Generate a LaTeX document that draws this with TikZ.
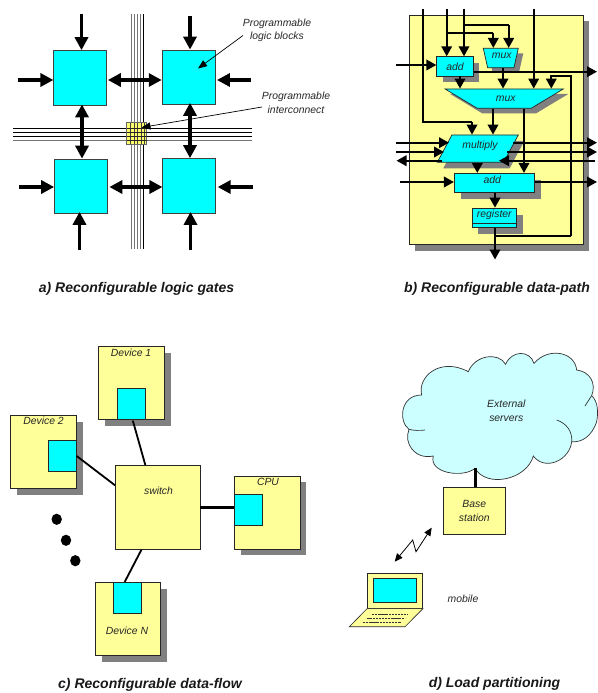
\documentclass[tikz,border=0pt]{standalone}
\usepackage{fontspec}
\setmainfont{Liberation Sans}
\usetikzlibrary{arrows.meta,shapes.geometric,shadows,calc}
\definecolor{cy}{HTML}{00FFFF}
\definecolor{ye}{HTML}{FFFF99}
\definecolor{cl}{HTML}{CCFFFF}
\definecolor{sh}{HTML}{808080}
\tikzset{
  lab/.style={font=\itshape\fontsize{10.4}{13.5}\selectfont,text=black!85,inner sep=0pt,align=center},
  captxt/.style={font=\bfseries\itshape\fontsize{14}{16}\selectfont,text=black!90,inner sep=0pt},
  lblock/.style={draw=black!75,line width=.7pt,fill=cy,rectangle,minimum width=#1,inner sep=0pt},
  lblock/.default=53pt,
  box/.style={rectangle,draw=black!85,line width=.7pt,fill=ye,inner sep=0pt},
  cbox/.style={rectangle,draw=black!85,line width=.7pt,fill=cy,inner sep=0pt},
  shad/.style={drop shadow={shadow xshift=#1,shadow yshift=-#1,fill=sh,opacity=1}},
  shad/.default=6pt,
  fat/.style={line width=3.2pt,-{Triangle[length=13pt,width=13pt]}},
  fatb/.style={line width=3.2pt,{Triangle[length=13pt,width=13pt]}-{Triangle[length=13pt,width=13pt]}},
  wire/.style={line width=2pt,-{Triangle[length=10pt,width=10.5pt]}},
  plainw/.style={line width=2pt},
  thinarr/.style={line width=.7pt,-{Triangle[length=9pt,width=7pt]}},
  busg/.style={line width=.8pt,draw=black!55},
  busk/.style={line width=.8pt,draw=black},
  link/.style={line width=1.8pt},
  linkb/.style={line width=3.2pt},
  ptr/.style={trapezium,trapezium stretches=true,shape border rotate=180,draw=black!85,line width=.7pt,fill=cy,inner sep=0pt,font=\tiny},
}
\begin{document}
\begin{tikzpicture}[x=1pt,y=-1pt]
\useasboundingbox (0,0) rectangle (597,693);
% ---------- a) ----------
\foreach \vx/\st in {131/busg,134/busg,137.5/busg,140.5/busg,143.5/busk}
  \draw[\st] (\vx,14) -- (\vx,249);
\foreach \hy/\st in {128/busk,132/busk,136/busk,140/busg}
  \draw[\st] (13,\hy) -- (252,\hy);
\node[rectangle,draw=black!60,line width=.6pt,fill=ye!70!yellow,minimum width=20pt,minimum height=21.5pt,inner sep=0pt] (grid) at (136.7,133.2) {};
\begin{scope}
\foreach \vx in {130.5,134,137.5,141,144}
  \draw[line width=.4pt,black!75] (\vx,122.5) -- (\vx,144);
\foreach \hy in {128,132,136,140}
  \draw[line width=.4pt,black!85] (126.7,\hy) -- (146.7,\hy);
\end{scope}
\node[lblock,minimum height=54.5pt] (tl) at (80.3,77.8) {};
\node[lblock,minimum height=54.5pt] (tr) at (188.6,77.2) {};
\node[lblock,minimum height=54pt] (bl) at (81,186) {};
\node[lblock,minimum height=54.5pt] (br) at (189.3,185.8) {};
\coordinate (tlin) at (81.5,14); \coordinate (trin) at (190,16);
\coordinate (tlw) at (18,80); \coordinate (tre) at (251,80);
\coordinate (blw) at (19,187); \coordinate (bre) at (253,187);
\coordinate (bls) at (79.5,249.5); \coordinate (brs) at (190.5,249.5);
\draw[fat] (tlin) -- (tlin |- tl.north);
\draw[fat] (trin) -- (trin |- tr.north);
\draw[fat] (tlw) -- (tlw -| tl.west);
\draw[fat] (tre) -- ([xshift=1.5pt]tre -| tr.east);
\draw[fat] (blw) -- (blw -| bl.west);
\draw[fat] (bre) -- ([xshift=1.5pt]bre -| br.east);
\draw[fat] (bls) -- ([yshift=1.5pt]bls |- bl.south);
\draw[fat] (brs) -- ([yshift=1.5pt]brs |- br.south);
\draw[fatb] ([xshift=.7pt]tlw -| tl.east) -- (tlw -| tr.west);
\draw[fatb] ([xshift=1.5pt]blw -| bl.east) -- (blw -| br.west);
\coordinate (lv) at (82,100); \coordinate (rv) at (190,100);
\draw[fatb] ([yshift=1pt]lv |- tl.south) -- (lv |- bl.north);
\draw[fatb] ([yshift=2pt]rv |- tr.south) -- (rv |- br.north);
\node[lab] (l1) at (277,30.5) {Programmable\\logic blocks};
\node[lab] (l2) at (296,103) {Programmable\\interconnect};
\coordinate (l1p) at (198,68.5); \coordinate (l2p) at (141.5,127.5);
\coordinate (l1s) at (243,35.5); \coordinate (l2s) at (262,107);
\draw[thinarr] (l1s) -- (l1p);
\draw[thinarr] (l2s) -- (l2p);
\node[captxt] (capa) at (136.5,288.5) {a) Reconfigurable logic gates};
% ---------- b) ----------
\node[box,shad=6pt,minimum width=174pt,minimum height=229.5pt] (dp) at (496,129.8) {};
\node[cbox,shad=6pt,lab,draw=black!85,minimum width=36.6pt,minimum height=19.3pt] (add1) at (455,66.3) {add};
\node[ptr,shad=5pt,trapezium angle=66.7,minimum width=35pt,minimum height=19.4pt] (mux1) at (500.8,58) {\phantom{.}};
\node[lab] (mux1t) at (501.7,55.5) {mux};
\node[ptr,shad=5pt,trapezium angle=33,minimum width=118.3pt,minimum height=19.3pt] (mux2) at (504.2,98.6) {\phantom{.}};
\node[lab] (mux2t) at (505.7,98.3) {mux};
\node[trapezium,trapezium stretches=true,draw=black!85,line width=.7pt,fill=cy,inner sep=0pt,font=\tiny,shad=6pt,trapezium left angle=53.8,trapezium right angle=126.2,minimum width=81pt,minimum height=27.3pt] (mul) at (477.8,148.6) {\phantom{.}};
\node[lab] (mult) at (480,145.5) {multiply};
\node[cbox,shad=6.5pt,minimum width=80pt,minimum height=19.4pt] (add2) at (494.3,183) {};
\node[lab] (add2t) at (492.3,180) {add};
\node[cbox,shad=6.5pt,minimum width=44.7pt,minimum height=19.3pt] (reg) at (494.3,217.7) {};
\draw[line width=.6pt,black!85] (reg.west |- 0,223.3) -- (reg.east |- 0,223.3);
\node[lab] (regt) at (494.3,215.3) {register};
% free ends and routing columns
\coordinate (a) at (422.7,9); \coordinate (b) at (446.7,9); \coordinate (c) at (464,9); \coordinate (d) at (533.7,9);
\coordinate (ri) at (597,71.7);
\draw[plainw] (a) |- (472,122) coordinate (ac);
\draw[wire] (ac) -- (ac |- mul.north);
\draw[wire] (b) -- (b |- add1.north);
\draw[wire] (c) -- (c |- add1.north);
\coordinate (m1l) at (493.3,32.7); \coordinate (m1r) at (508.7,25);
\draw[plainw] (b |- m1l) -- (m1l);
\draw[wire] (m1l) -- (m1l |- mux1.north);
\draw[plainw] (c |- m1r) -- (m1r);
\draw[wire] (m1r) -- (m1r |- mux1.north);
\draw[wire] (d) -- (d |- mux2.north);
\coordinate (ain) at (396,65);
\draw[wire] (ain) -- (ain -| add1.west);
\draw[wire] (ri -| add1.east) -- (ri);
\coordinate (a1d) at (460,76); \coordinate (m1d) at (503,68);
\draw[wire] (a1d |- add1.south) -- (a1d |- mux2.north);
\draw[wire] (m1d |- mux1.south) -- (m1d |- mux2.north);
\coordinate (fb) at (551.3,76); \coordinate (fbv) at (571,76);
\draw[wire] (fbv |- 0,236) -- (fbv) -- (fb) -- (fb |- mux2.north);
\coordinate (m2a) at (493,110); \coordinate (m2b) at (524,110);
\draw[wire] (m2a |- mux2.south) -- (m2a |- mul.north);
\draw[wire] (m2b |- mux2.south) -- (m2b |- add2.north);
\coordinate (i1) at (396,142.7); \coordinate (i2) at (396,152); \coordinate (i3) at (396.5,160.7);
\coordinate (o1) at (597,142.7); \coordinate (o2) at (597,152); \coordinate (o3) at (595,160.7);
\draw[wire] (i1) -- (449,142.7) coordinate (i1e);
\draw[wire] (i2) -- (444,152) coordinate (i2e);
\draw[wire] (442,160.7) coordinate (i3e) -- (i3);
\draw[wire] (513,142.7) coordinate (o1s) -- (o1);
\draw[wire] (507,152) coordinate (o2s) -- (o2);
\draw[wire] (o3) -- (499,160.7) coordinate (o3e);
\coordinate (md) at (477.3,163);
\draw[wire] (md |- mul.south) -- (md |- add2.north);
\coordinate (a2i) at (400,182);
\draw[wire] (a2i) -- (a2i -| add2.west);
\draw[wire] (add2.east |- a2i) -- (597,182) coordinate (a2o);
\coordinate (cc) at (495,200);
\draw[wire] (cc |- add2.south) -- (cc |- reg.north);
\coordinate (regout) at (495,259.5);
\draw[wire] (cc |- reg.south) -- (regout);
\draw[plainw] (cc |- 0,236) -- (fbv |- 0,236);
\node[captxt] (capb) at (497,288.5) {b) Reconfigurable data-path};
% ---------- c) ----------
\node[box,shad=6.5pt,minimum width=65.6pt,minimum height=73pt] (d1) at (131.5,382.8) {};
\node[cbox,minimum width=28.4pt,minimum height=31.3pt] (d1c) at (131.5,403.7) {};
\node[lab] (d1t) at (131,352.5) {Device 1};
\node[box,shad=6.5pt,minimum width=66pt,minimum height=73pt] (d2) at (43.3,451.5) {};
\node[cbox,minimum width=28pt,minimum height=31.4pt] (d2c) at (62.3,456) {};
\node[lab] (d2t) at (43.5,421) {Device 2};
\node[box,minimum width=84.7pt,minimum height=84pt] (sw) at (157.7,507.3) {};
\node[lab] (swt) at (158.5,490.5) {switch};
\node[box,shad=6pt,minimum width=65.5pt,minimum height=72.7pt] (cpu) at (267.5,512.7) {};
\node[cbox,minimum width=28pt,minimum height=31pt] (cpuc) at (248.7,509.5) {};
\node[lab] (cput) at (268,482) {CPU};
\node[box,shad=6.5pt,minimum width=65.4pt,minimum height=73pt] (dn) at (128,618.8) {};
\node[cbox,minimum width=28pt,minimum height=31.4pt] (dnc) at (127.7,598) {};
\node[lab] (dnt) at (127,631) {Device N};
\draw[link] ($(d1.south west)!.52!(d1.south east)+(0,1)$) -- ($(sw.north west)!.355!(sw.north east)$);
\draw[link] (d2.east |- d2c.center) -- ($(sw.north west)!.24!(sw.south west)$);
\draw[linkb] (cpuc.west |- sw.center) -- (sw.center -| sw.east);
\draw[link] ($(sw.south west)!.31!(sw.south east)$) -- ($(dn.north west)!.45!(dn.north east)$);
\fill (56.7,519.3) circle[x radius=5.2pt,y radius=5.6pt];
\fill (66,540.3) circle[x radius=5.2pt,y radius=5.6pt];
\fill (75.3,560.7) circle[x radius=5.2pt,y radius=5.6pt];
\node[captxt] (capc) at (150,685) {c) Reconfigurable data-flow};
% ---------- d) ----------
\begin{scope}[shift={(340,330)},x=.3333pt,y=-.3333pt]
\draw[fill=cl,draw=black!80,line width=.7pt]
 (245,195) .. controls (232,140) and (300,80) .. (385,125)
 .. controls (405,75) and (475,65) .. (497,103)
 .. controls (515,60) and (570,60) .. (582,100)
 .. controls (625,50) and (705,65) .. (710,120)
 .. controls (750,125) and (770,160) .. (755,197)
 .. controls (775,215) and (775,250) .. (770,275)
 .. controls (755,320) and (725,338) .. (695,335)
 .. controls (690,390) and (615,425) .. (580,378)
 .. controls (560,450) and (440,475) .. (405,415)
 .. controls (370,445) and (265,430) .. (280,378)
 .. controls (225,390) and (190,340) .. (207,298)
 .. controls (175,275) and (180,195) .. (245,195) -- cycle;
\draw[draw=black!80,line width=.7pt] (755,197) -- (735,228);
\draw[draw=black!80,line width=.7pt] (650,270) .. controls (680,280) and (698,305) .. (695,335);
\draw[draw=black!80,line width=.7pt] (207,298) .. controls (220,302) and (240,302) .. (255,300);
\end{scope}
\node[box,minimum width=62.7pt,minimum height=47pt,align=center,lab,draw=black!85] (bs) at (474.3,510.8) {Base\\station};
\node[lab] (ext) at (506.3,410.7) {External\\servers};
\coordinate (cloudfoot) at (475.3,468);
\draw[linkb] (cloudfoot) -- (cloudfoot |- bs.north);
\node[rectangle,draw=black!85,line width=.6pt,fill=ye,minimum width=55.3pt,minimum height=35.3pt,inner sep=0pt] (lap) at (395,590.7) {};
\node[rectangle,draw=black!85,line width=.8pt,fill=cy,minimum width=43.3pt,minimum height=24.3pt,inner sep=0pt] (scr) at (395,590.5) {};
\draw[draw=black!85,line width=.6pt,fill=ye] (lap.south west) -- (lap.south east) -- (405,626.7) -- (349.3,626.7) -- cycle;
\foreach \ka/\kb/\ky in {371.7/408.3/614.3,367.3/405/618.3,362.7/400.7/622.3}
  \draw[line width=.5pt,black!80,dash pattern=on 2.2pt off .7pt] (\ka,\ky) -- (\kb,\ky);
\node[lab] (mob) at (463,598.3) {mobile};
\draw[line width=.8pt,{Triangle[length=8pt,width=7pt]}-{Triangle[length=8pt,width=7pt]}] (394.7,561.7) coordinate (ze1) -- (412.7,540) -- (416,551.7) -- (431.7,527.7) coordinate (ze2);
\node[captxt] (capd) at (494.5,683.5) {d) Load partitioning};
\end{tikzpicture}
\end{document}
